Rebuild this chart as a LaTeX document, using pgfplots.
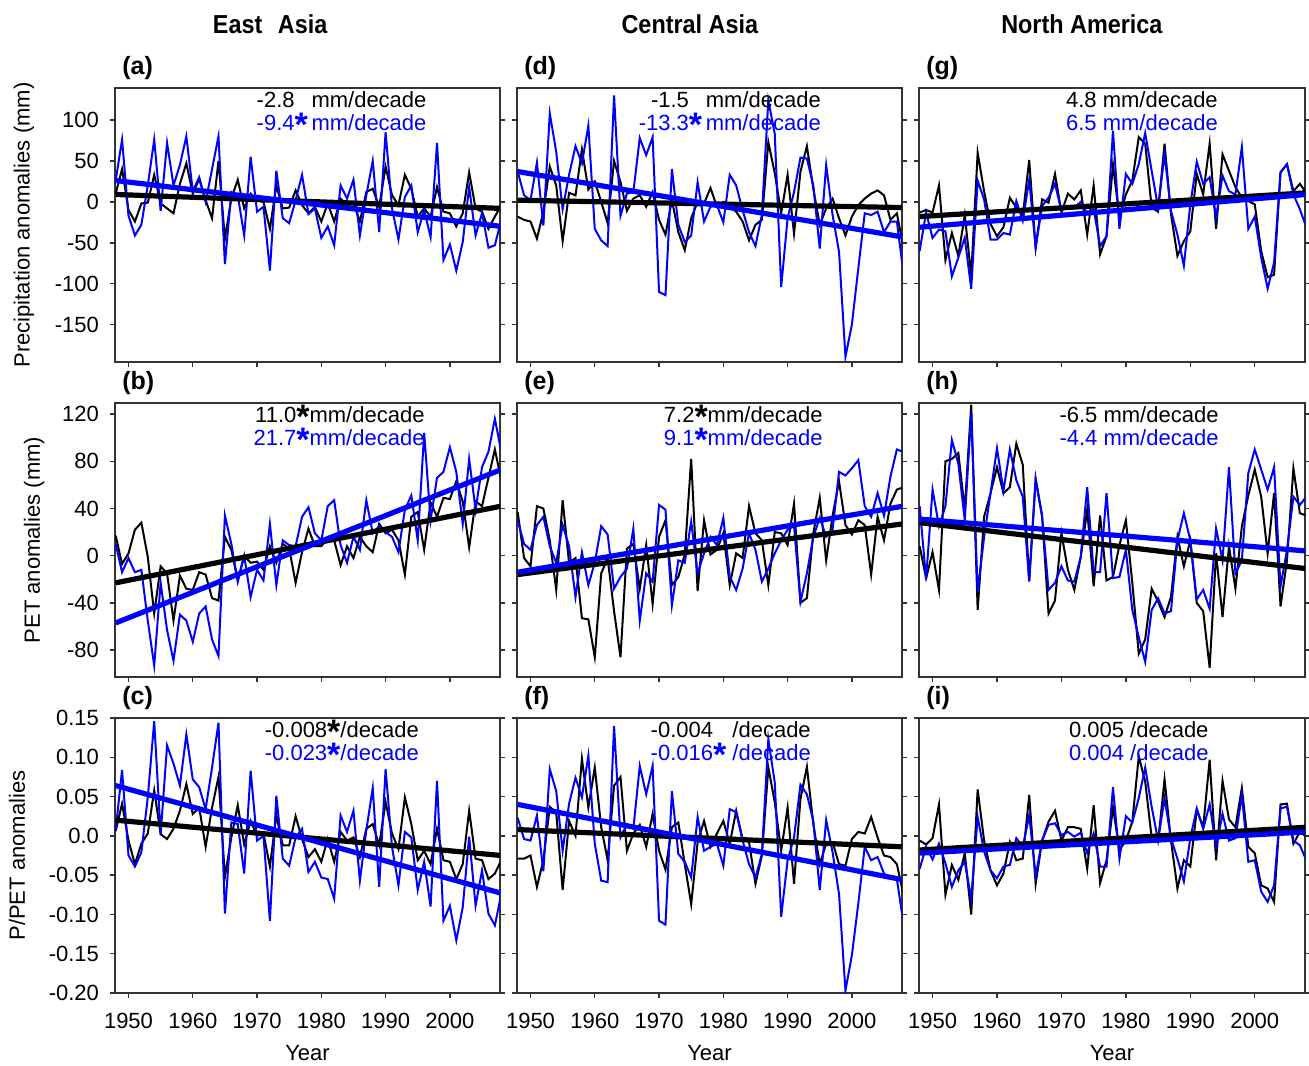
\documentclass[border=0pt]{standalone}
\usepackage{pgfplots}
\usepackage{pgfplotstable}
\pgfplotsset{compat=1.18}
\usepackage{fontspec}
\setmainfont{Liberation Sans}
\newfontfamily\titlefont[FakeStretch=0.9]{Liberation Sans}
\definecolor{pblue}{RGB}{0,0,255}

\pgfplotstableread{
yr eaK eaB caK caB naK naB
1948 10 26 -18 37 -13 -60
1949 40 76 -22 8 -10 -13
1950 -10 -17 -24 2 -13 -44
1951 -24 -41 -45 48 20 -34
1952 -2 -28 -12 -29 -71 -36
1953 -1 20 43 108 -38 -91
1954 33 76 20 61 -66 -68
1955 -2 -11 -48 -9 -16 -44
1956 -8 72 11 33 -90 -106
1957 -14 20 8 68 60 26
1958 22 45 64 47 13 3
1959 47 80 15 93 -27 -46
1960 10 13 25 -33 -42 -46
1961 28 30 0 -47 -31 -38
1962 2 0 -26 -54 5 -40
1963 -20 40 50 130 -7 1
1964 50 80 24 -17 -17 -23
1965 -45 -76 -11 10 51 27
1966 4 12 4 12 -56 -56
1967 27 8 8 78 3 -5
1968 -8 -41 -6 57 -1 5
1969 10 55 12 79 34 22
1970 2 -12 -22 -110 -13 -11
1971 0 -6 -40 -114 10 -5
1972 -33 -84 2 40 3 -7
1973 20 38 -37 -28 14 0
1974 -8 -20 -59 -49 -40 -15
1975 -7 -26 -20 -41 20 -9
1976 14 2 0 24 -64 -54
1977 -4 33 -2 -24 -42 -42
1978 -14 -15 17 -6 45 87
1979 -6 -8 -6 -4 -19 -33
1980 -24 -44 0 -25 9 34
1981 -2 -30 -6 33 26 22
1982 -24 -53 -12 20 79 46
1983 4 20 -24 -10 71 84
1984 -4 4 -47 -37 -7 38
1985 -2 27 -28 -54 -12 -7
1986 -24 -41 -22 -16 71 58
1987 12 8 73 124 -15 -11
1988 16 50 35 83 -66 -40
1989 -6 -37 -14 -104 -48 -78
1990 43 85 33 -20 -36 -3
1991 8 -8 -39 12 34 49
1992 -4 -46 37 54 9 22
1993 33 6 68 53 71 30
1994 16 20 16 20 -33 -19
1995 -18 -37 -28 -57 58 32
1996 -8 -10 -8 45 38 13
1997 -18 -43 4 -16 18 9
1998 18 72 -20 -61 5 67
1999 -12 -71 -41 -189 1 -33
2000 -14 -52 -18 -150 -3 -18
2001 -30 -84 -4 -81 -60 -68
2002 -14 -49 4 -14 -92 -106
2003 36 18 10 -16 -89 -74
2004 -8 -41 14 -12 36 36
2005 -12 -14 8 -37 46 46
2006 -33 -56 -22 -24 13 9
2007 -18 -53 -14 -24 22 -9
2008 -4 -22 -55 -85 11 -31
}\precip

\pgfplotstableread{
yr eaK eaB caK caB naK naB
1948 17 10 37 30 8 42
1949 -7 -14 -2 10 -19 -20
1950 2 -2 -9 5 3 56
1951 22 -14 42 26 -29 25
1952 28 -12 40 33 80 42
1953 -1 -55 13 8 82 98
1954 -49 -93 -29 -6 87 78
1955 -9 -23 47 26 39 30
1956 -15 -63 -6 8 128 121
1957 -55 -89 -2 -35 -46 -31
1958 -17 -50 -53 3 33 16
1959 -28 -55 -54 -25 53 53
1960 -29 -73 -86 -6 75 91
1961 -14 -49 -15 25 53 55
1962 -16 -43 -2 18 58 90
1963 -36 -71 -47 -28 95 64
1964 -38 -85 -86 -18 77 50
1965 16 34 6 -11 -21 -22
1966 5 10 10 23 65 65
1967 -21 -22 -28 -55 34 33
1968 0 0 9 -15 -49 -29
1969 -6 -35 -41 -22 -38 -23
1970 -5 -12 16 43 19 -9
1971 -12 -21 30 39 -12 -21
1972 8 27 -25 -42 -29 -22
1973 -6 -25 -18 -4 -1 -1
1974 10 13 1 -6 39 58
1975 6 9 82 29 -26 -14
1976 -23 8 -30 -15 34 -14
1977 3 33 30 2 -21 53
1978 23 41 1 16 -18 -19
1979 8 19 5 9 9 -18
1980 8 13 19 32 30 5
1981 15 42 -25 -18 -23 -46
1982 13 47 2 -29 -83 -69
1983 -8 9 -2 -11 -71 -90
1984 8 -6 42 19 -28 -46
1985 -2 16 19 5 -39 -36
1986 16 5 13 -22 -52 -49
1987 8 47 -25 -11 -35 -47
1988 3 19 20 2 16 13
1989 27 25 19 13 -9 36
1990 19 20 9 22 13 13
1991 22 16 44 25 -40 -37
1992 13 3 -40 -39 -47 -29
1993 -16 39 -36 -15 -95 -45
1994 33 51 19 16 2 23
1995 37 13 49 32 -52 -4
1996 5 104 -4 16 8 75
1997 45 30 34 22 -28 -15
1998 33 66 63 71 25 -4
1999 49 71 26 68 51 70
2000 48 92 18 74 73 90
2001 63 71 30 81 50 73
2002 46 27 26 42 2 56
2003 7 82 -16 33 53 75
2004 46 39 33 53 -43 -26
2005 42 75 13 34 -4 5
2006 66 88 44 67 74 50
2007 90 116 56 90 36 43
2008 64 88 58 88 34 50
}\pet

\pgfplotstableread{
yr eaK eaB caK caB naK naB
1948 0.006 0.007 -0.029 0.023 -0.006 -0.042
1949 0.041 0.084 -0.029 -0.004 -0.011 -0.014
1950 -0.006 -0.025 -0.025 -0.006 -0.003 -0.030
1951 -0.036 -0.039 -0.065 0.026 0.040 -0.010
1952 -0.010 -0.021 -0.031 -0.045 -0.075 -0.035
1953 0.003 0.049 0.037 0.085 -0.037 -0.065
1954 0.058 0.146 0.030 0.057 -0.056 -0.044
1955 0.002 0.002 -0.069 -0.019 -0.022 -0.033
1956 -0.004 0.115 0.019 0.041 -0.100 -0.080
1957 0.009 0.092 0.000 0.074 0.059 0.024
1958 0.032 0.064 0.098 0.049 -0.006 -0.020
1959 0.066 0.129 0.036 0.102 -0.044 -0.044
1960 0.028 0.072 0.087 -0.010 -0.063 -0.054
1961 0.036 0.062 0.011 -0.057 -0.048 -0.039
1962 -0.014 0.034 -0.031 -0.059 -0.008 -0.037
1963 0.036 0.087 0.064 0.140 -0.031 -0.003
1964 0.075 0.144 0.075 -0.002 -0.029 -0.014
1965 -0.052 -0.099 -0.019 0.015 0.052 0.026
1966 -0.002 0.017 0.003 0.009 -0.061 -0.051
1967 0.039 0.015 0.014 0.089 -0.006 -0.006
1968 -0.011 -0.048 -0.014 0.053 0.018 0.014
1969 0.019 0.083 0.028 0.089 0.032 0.016
1970 0.000 -0.006 -0.019 -0.108 -0.006 0.001
1971 0.003 0.000 -0.043 -0.113 0.011 0.005
1972 -0.039 -0.108 0.011 0.057 0.011 -0.001
1973 0.026 0.051 0.017 -0.023 0.009 0.004
1974 -0.012 -0.029 -0.036 -0.033 -0.042 -0.022
1975 -0.012 -0.038 -0.087 -0.053 0.039 0.003
1976 0.025 -0.002 -0.008 0.024 -0.060 -0.039
1977 -0.004 0.009 0.019 -0.019 -0.031 -0.039
1978 -0.027 -0.046 -0.014 -0.014 0.036 0.062
1979 -0.017 -0.033 0.003 -0.010 -0.018 -0.029
1980 -0.033 -0.053 0.019 -0.038 -0.006 0.025
1981 -0.004 -0.055 -0.010 0.034 0.018 0.017
1982 -0.033 -0.080 0.032 0.030 0.101 0.048
1983 0.005 0.026 -0.004 -0.006 0.069 0.087
1984 -0.006 0.005 -0.008 -0.036 -0.002 0.037
1985 -0.002 0.032 -0.061 -0.053 -0.008 -0.006
1986 -0.027 -0.057 -0.025 -0.023 0.072 0.048
1987 0.009 0.007 0.087 0.123 -0.006 -0.003
1988 0.015 0.061 0.043 0.068 -0.067 -0.029
1989 -0.012 -0.065 -0.019 -0.103 -0.031 -0.058
1990 0.043 0.085 0.036 -0.031 -0.039 -0.003
1991 0.003 -0.014 -0.061 -0.002 0.033 0.035
1992 -0.017 -0.063 0.047 0.065 0.011 0.009
1993 0.049 0.005 0.088 0.053 0.097 0.040
1994 0.015 -0.002 0.015 0.019 -0.031 -0.014
1995 -0.031 -0.069 -0.036 -0.069 0.070 0.028
1996 -0.019 -0.033 -0.010 0.020 0.021 -0.006
1997 -0.036 -0.090 -0.008 -0.021 0.011 -0.003
1998 0.009 0.070 -0.036 -0.074 0.061 0.052
1999 -0.031 -0.108 -0.038 -0.197 -0.014 -0.033
2000 -0.033 -0.089 -0.004 -0.152 -0.022 -0.031
2001 -0.055 -0.133 0.005 -0.086 -0.063 -0.071
2002 -0.036 -0.091 0.003 -0.014 -0.067 -0.084
2003 0.032 -0.001 0.024 -0.031 -0.084 -0.063
2004 -0.029 -0.089 -0.002 -0.027 0.040 0.035
2005 -0.031 -0.044 -0.025 -0.048 0.041 0.037
2006 -0.055 -0.099 -0.027 -0.053 -0.010 -0.006
2007 -0.048 -0.114 -0.036 -0.055 0.005 -0.012
2008 -0.031 -0.074 -0.074 -0.110 -0.001 -0.031
}\ratio

\newcommand{\st}{\smash{\raisebox{-2.8pt}{\fontsize{17}{17}\selectfont\bfseries *}}}
\newcommand{\trend}[6]{%
  \node[anchor=north east, inner sep=0pt, yshift=-1.8pt, font=\fontsize{11}{11}\selectfont]
    at (rel axis cs:#1,1) {\begin{tabular}{@{}r@{}l@{}l@{}}#2 & #3 & #6\\ \color{pblue}#4 & \color{pblue}#5 & \color{pblue}#6\end{tabular}};}
\newcommand{\plabel}[1]{%
  \node[anchor=south west, inner sep=0pt, yshift=4pt, font=\fontsize{12.5}{12.5}\selectfont\bfseries] at (rel axis cs:0.018,1) {#1};}
\newcommand{\ctitle}[2]{%
  \node[anchor=base, inner sep=0pt, yshift=27pt, font=\titlefont\fontsize{13}{13}\selectfont\bfseries] at (rel axis cs:#1,1) {#2};}

\pgfplotsset{
  panel/.style={scale only axis, width=192.5pt, height=137pt,
    xmin=1947.9, xmax=2007.8, clip mode=individual,
    xtick={1950,1960,1970,1980,1990,2000}, xticklabels={},
    tick align=outside, xtick pos=bottom, ytick pos=both, yticklabel pos=left,
    major tick length=2.5pt,
    axis line style={line width=0.7pt, black!80},
    tick style={line width=0.7pt, black!80},
    tick label style={font=\fontsize{11}{11}\selectfont},
    yticklabel style={xshift=-2pt},
    xticklabel style={yshift=-4pt},
    label style={font=\fontsize{11}{11}\selectfont},
    xlabel style={yshift=-1.5pt},
    anchor=south west},
  prow/.style={height=137pt, ymin=-195.5, ymax=139, ytick={-150,-100,-50,0,50,100}},
  erow/.style={height=137pt, ymin=-102.8, ymax=129.4, ytick={-80,-40,0,40,80,120}},
  rrow/.style={height=137.5pt, ymin=-0.2, ymax=0.15, ytick={-0.2,-0.15,-0.1,-0.05,0,0.05,0.1,0.15},
    xticklabels={1950,1960,1970,1980,1990,2000}, xlabel={Year}},
  kline/.style={black, line width=1pt},
  bline/.style={pblue, line width=1pt},
  ktr/.style={black, line width=2.6pt},
  btr/.style={pblue, line width=2.6pt},
}

\begin{document}
\begin{tikzpicture}
\useasboundingbox (0pt,0pt) rectangle (654.5pt,532.5pt);
% ---------- Row 1: precipitation ----------
\begin{axis}[panel, prow, at={(57.5pt,351.5pt)}, yticklabels={-150,-100,-50,0,50,100},
  ylabel={Precipitation anomalies (mm)}, ylabel style={yshift=3.5pt}]
\addplot[kline] table[x=yr, y=eaK] {\precip};
\addplot[bline] table[x=yr, y=eaB] {\precip};
\addplot[ktr] coordinates {(1948,9) (2008,-8)};
\addplot[btr] coordinates {(1948,26) (2008,-30)};
\trend{0.81}{-2.8}{\phantom{\st}}{-9.4}{\st}{\,mm/decade}
\plabel{(a)}
\ctitle{0.403}{East\hspace{0.6em}Asia}
\end{axis}
\begin{axis}[panel, prow, at={(258.5pt,351.5pt)}, yticklabels={}]
\addplot[kline] table[x=yr, y=caK] {\precip};
\addplot[bline] table[x=yr, y=caB] {\precip};
\addplot[ktr] coordinates {(1948,2) (2008,-7)};
\addplot[btr] coordinates {(1948,37) (2008,-43)};
\trend{0.79}{-1.5}{\phantom{\st}}{-13.3}{\st}{\,mm/decade}
\plabel{(d)}
\ctitle{0.449}{Central Asia}
\end{axis}
\begin{axis}[panel, prow, width=193pt, at={(459.5pt,351.5pt)}, yticklabels={}]
\addplot[kline] table[x=yr, y=naK] {\precip};
\addplot[bline] table[x=yr, y=naB] {\precip};
\addplot[ktr] coordinates {(1948,-18) (2008,11)};
\addplot[btr] coordinates {(1948,-31) (2008,9)};
\trend{0.775}{4.8}{~}{6.5}{~}{mm/decade}
\plabel{(g)}
\ctitle{0.422}{North America}
\end{axis}
% ---------- Row 2: PET ----------
\begin{axis}[panel, erow, at={(57.5pt,194pt)}, yticklabels={-80,-40,0,40,80,120},
  ylabel={PET anomalies (mm)}, ylabel style={yshift=2pt}]
\addplot[kline] table[x=yr, y=eaK] {\pet};
\addplot[bline] table[x=yr, y=eaB] {\pet};
\addplot[ktr] coordinates {(1948,-23) (2008,42)};
\addplot[btr] coordinates {(1948,-57) (2008,73)};
\trend{0.805}{11.0}{\st}{21.7}{\st}{mm/decade}
\plabel{(b)}
\end{axis}
\begin{axis}[panel, erow, at={(258.5pt,194pt)}, yticklabels={}]
\addplot[kline] table[x=yr, y=caK] {\pet};
\addplot[bline] table[x=yr, y=caB] {\pet};
\addplot[ktr] coordinates {(1948,-16) (2008,27)};
\addplot[btr] coordinates {(1948,-14) (2008,42)};
\trend{0.795}{7.2}{\st}{9.1}{\st}{mm/decade}
\plabel{(e)}
\end{axis}
\begin{axis}[panel, erow, width=193pt, at={(459.5pt,194pt)}, yticklabels={}]
\addplot[kline] table[x=yr, y=naK] {\pet};
\addplot[bline] table[x=yr, y=naB] {\pet};
\addplot[ktr] coordinates {(1948,28) (2008,-11)};
\addplot[btr] coordinates {(1948,31) (2008,4)};
\trend{0.777}{-6.5}{~}{-4.4}{~}{mm/decade}
\plabel{(h)}
\end{axis}
% ---------- Row 3: P/PET ----------
\begin{axis}[panel, rrow, at={(57.5pt,36pt)},
  yticklabels={-0.20,-0.15,-0.10,-0.05,0.0,0.05,0.10,0.15},
  ylabel={P/PET anomalies}, ylabel style={yshift=5pt}]
\addplot[kline] table[x=yr, y=eaK] {\ratio};
\addplot[bline] table[x=yr, y=eaB] {\ratio};
\addplot[ktr] coordinates {(1948,0.020) (2008,-0.025)};
\addplot[btr] coordinates {(1948,0.064) (2008,-0.073)};
\trend{0.79}{-0.008}{\st}{-0.023}{\st}{/decade}
\plabel{(c)}
\end{axis}
\begin{axis}[panel, rrow, at={(258.5pt,36pt)}, yticklabels={}]
\addplot[kline] table[x=yr, y=caK] {\ratio};
\addplot[bline] table[x=yr, y=caB] {\ratio};
\addplot[ktr] coordinates {(1948,0.008) (2008,-0.014)};
\addplot[btr] coordinates {(1948,0.040) (2008,-0.056)};
\trend{0.764}{-0.004}{\phantom{\st}}{-0.016}{\st}{\ /decade}
\plabel{(f)}
\end{axis}
\begin{axis}[panel, rrow, width=193pt, at={(459.5pt,36pt)}, yticklabels={}]
\addplot[kline] table[x=yr, y=naK] {\ratio};
\addplot[bline] table[x=yr, y=naB] {\ratio};
\addplot[ktr] coordinates {(1948,-0.018) (2008,0.011)};
\addplot[btr] coordinates {(1948,-0.022) (2008,0.005)};
\trend{0.751}{0.005}{~}{0.004}{~}{/decade}
\plabel{(i)}
\end{axis}
\end{tikzpicture}
\end{document}
